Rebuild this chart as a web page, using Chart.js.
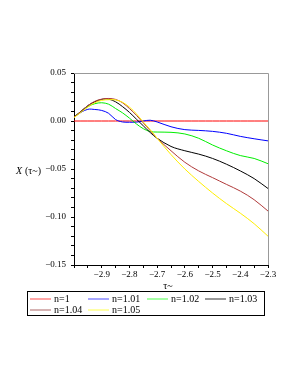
<!DOCTYPE html>
<html>
<head>
<meta charset="utf-8">
<script src="https://cdn.jsdelivr.net/npm/chart.js@4.4.1/dist/chart.umd.min.js"></script>
<style>
  html, body { margin: 0; padding: 0; background: #fff; }
  #wrap { width: 298px; height: 385px; }
</style>
</head>
<body>
<div id="wrap"><canvas id="xChart" width="298" height="385"></canvas></div>
<script>
// τ~ の値（横軸）
const tau = [-3.0, -2.975, -2.95, -2.925, -2.9, -2.875, -2.85, -2.825, -2.8, -2.775,
             -2.75, -2.725, -2.7, -2.65, -2.6, -2.55, -2.5, -2.45, -2.4, -2.35, -2.3];

// 各 n に対する X(τ~) の値
const n100 = tau.map(() => 0);
const n101 = [0.004, 0.009, 0.0122, 0.012, 0.011, 0.008, 0.0015, -0.001, -0.0013, -0.0012,
              0.0, 0.0008, -0.001, -0.006, -0.009, -0.0098, -0.0108, -0.0128, -0.016, -0.0185, -0.0207];
const n102 = [0.004, 0.01, 0.015, 0.018, 0.019, 0.0175, 0.013, 0.0085, 0.003, -0.003,
              -0.008, -0.011, -0.0115, -0.0118, -0.0135, -0.018, -0.025, -0.031, -0.036, -0.039, -0.0445];
const n103 = [0.004, 0.01, 0.016, 0.02, 0.0225, 0.0228, 0.02, 0.015, 0.009, 0.002,
              -0.005, -0.012, -0.018, -0.0265, -0.031, -0.0345, -0.039, -0.045, -0.052, -0.06, -0.0703];
const n104 = [0.004, 0.01, 0.016, 0.0205, 0.0228, 0.0235, 0.0225, 0.019, 0.013, 0.006,
              -0.002, -0.01, -0.018, -0.031, -0.043, -0.052, -0.059, -0.066, -0.073, -0.082, -0.0938];
const n105 = [0.0035, 0.009, 0.0145, 0.019, 0.0215, 0.0222, 0.022, 0.0195, 0.0145, 0.0075,
              -0.001, -0.009, -0.018, -0.035, -0.05, -0.063, -0.075, -0.086, -0.096, -0.107, -0.12];

const seriesLabels = ['n=1', 'n=1.01', 'n=1.02', 'n=1.03', 'n=1.04', 'n=1.05'];
const seriesValues = [n100, n101, n102, n103, n104, n105];
const lineColors = ['#ff0000', '#0000ff', '#00ee00', '#000000', '#b03a3a', '#ffee00'];
const legendColors = ['#ff8888', '#8888ff', '#88ff88', '#777777', '#c89a9a', '#ffff88'];

// 目盛り
const xTicks = [-3.0, -2.95, -2.9, -2.85, -2.8, -2.75, -2.7, -2.65, -2.6, -2.55, -2.5, -2.45, -2.4, -2.35, -2.3];
const xTickLabels = ['', '', '\u22122.9', '', '\u22122.8', '', '\u22122.7', '', '\u22122.6', '', '\u22122.5', '', '\u22122.4', '', '\u22122.3'];
const yTicks = [0.05, 0.04, 0.03, 0.02, 0.01, 0.0, -0.01, -0.02, -0.03, -0.04, -0.05,
                -0.06, -0.07, -0.08, -0.09, -0.1, -0.11, -0.12, -0.13, -0.14, -0.15];
const yTickLabels = ['0.05', '', '', '', '', '0.00', '', '', '', '', '\u22120.05',
                     '', '', '', '', '\u22120.10', '', '', '', '', '\u22120.15'];

const FONT = '"Liberation Serif", "DejaVu Serif", serif';

// 凡例・軸タイトル・枠を描くプラグイン
const decorPlugin = {
    id: 'decor',
    afterDraw(chart) {
        const ctx = chart.ctx;
        const a = chart.chartArea;
        ctx.save();

        // 上と右の枠線
        ctx.strokeStyle = '#999';
        ctx.lineWidth = 1;
        ctx.beginPath();
        ctx.moveTo(a.left, a.top + 0.5);
        ctx.lineTo(a.right + 0.5, a.top + 0.5);
        ctx.lineTo(a.right + 0.5, a.bottom);
        ctx.stroke();

        // 軸タイトル
        ctx.fillStyle = '#000';
        ctx.textBaseline = 'middle';
        ctx.font = 'italic 10px ' + FONT;
        ctx.textAlign = 'left';
        ctx.fillText('X', 16, 171);
        ctx.font = '10px ' + FONT;
        ctx.fillText('(\u03c4~)', 25, 171);
        ctx.textAlign = 'center';
        ctx.fillText('\u03c4~', 168, 286);

        // 凡例
        ctx.strokeStyle = '#000';
        ctx.strokeRect(27.5, 291.5, 237, 24);
        const cols = [30, 88, 147, 205];
        ctx.textAlign = 'left';
        ctx.font = '10px ' + FONT;
        seriesLabels.forEach((lab, i) => {
            const x = cols[i % 4];
            const y = i < 4 ? 299 : 310;
            ctx.strokeStyle = legendColors[i];
            ctx.lineWidth = 1.5;
            ctx.beginPath();
            ctx.moveTo(x, y);
            ctx.lineTo(x + 21, y);
            ctx.stroke();
            ctx.fillStyle = '#000';
            ctx.fillText(lab, x + 24, y + 0.5);
        });
        ctx.restore();
    }
};

const ctx = document.getElementById('xChart').getContext('2d');
new Chart(ctx, {
    type: 'line',
    data: {
        datasets: seriesValues.map((vals, i) => ({
            label: seriesLabels[i],
            data: tau.map((t, j) => ({ x: t, y: vals[j] })),
            borderColor: lineColors[i],
            borderWidth: 1,
            pointRadius: 0,
            tension: 0.35,
            fill: false
        })).reverse()
    },
    options: {
        responsive: false,
        animation: false,
        layout: { padding: { top: 73, right: 30, bottom: 0, left: 0 } },
        plugins: {
            legend: { display: false },
            tooltip: { enabled: false }
        },
        scales: {
            x: {
                type: 'linear',
                min: -3.0, max: -2.3,
                afterFit(scale) { scale.height = 120; },
                afterBuildTicks(scale) { scale.ticks = xTicks.map(v => ({ value: v })); },
                ticks: {
                    autoSkip: false,
                    maxRotation: 0,
                    padding: 1,
                    color: '#000',
                    font: { family: FONT, size: 9 },
                    callback: (v, i) => xTickLabels[i]
                },
                grid: { drawOnChartArea: false, tickLength: 3, color: '#000' },
                border: { color: '#000' }
            },
            y: {
                type: 'linear',
                min: -0.15, max: 0.05,
                afterFit(scale) { scale.width = 74; },
                afterBuildTicks(scale) { scale.ticks = yTicks.map(v => ({ value: v })); },
                ticks: {
                    autoSkip: false,
                    padding: 5,
                    color: '#000',
                    font: { family: FONT, size: 9 },
                    callback: (v, i) => yTickLabels[i]
                },
                grid: {
                    drawOnChartArea: false,
                    tickLength: 3,
                    color: '#000'
                },
                border: { color: '#000' }
            }
        }
    },
    plugins: [decorPlugin]
});
</script>
</body>
</html>
